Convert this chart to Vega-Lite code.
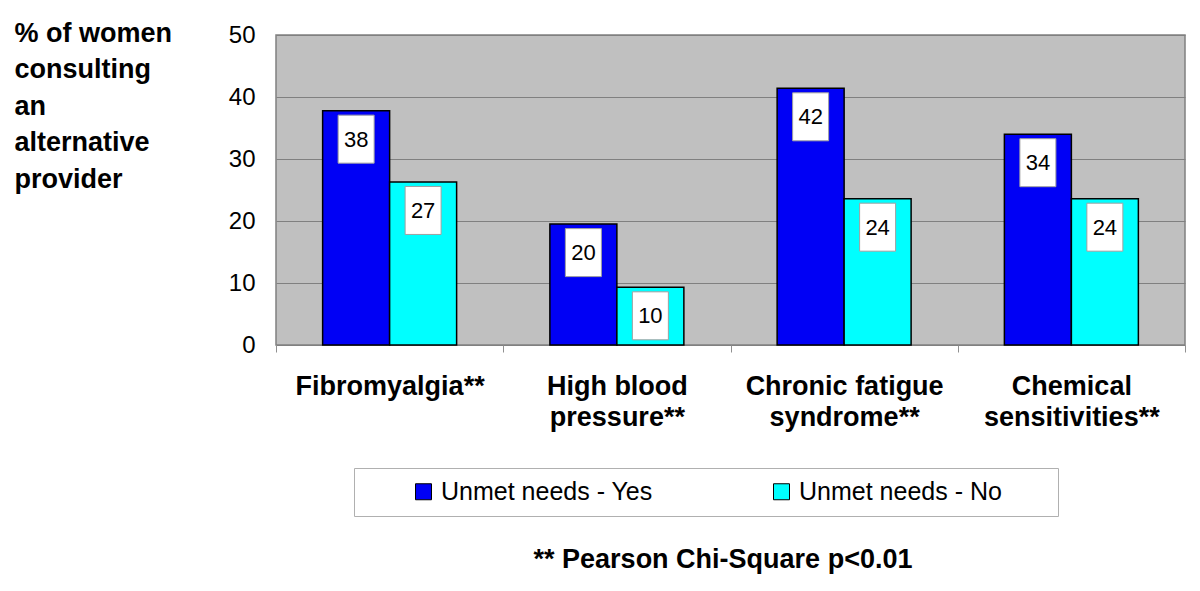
{
  "$schema": "https://vega.github.io/schema/vega-lite/v6.json",
  "width": 909,
  "height": 310,
  "autosize": {"type": "none"},
  "padding": {"left": 276, "top": 35, "right": 15, "bottom": 246},
  "background": "white",
  "data": {
    "values": [
      {"condition": "Fibromyalgia**", "needs": "Unmet needs - Yes", "pct": 37.8, "label": "38"},
      {"condition": "Fibromyalgia**", "needs": "Unmet needs - No", "pct": 26.3, "label": "27"},
      {"condition": "High blood pressure**", "needs": "Unmet needs - Yes", "pct": 19.5, "label": "20"},
      {"condition": "High blood pressure**", "needs": "Unmet needs - No", "pct": 9.3, "label": "10"},
      {"condition": "Chronic fatigue syndrome**", "needs": "Unmet needs - Yes", "pct": 41.4, "label": "42"},
      {"condition": "Chronic fatigue syndrome**", "needs": "Unmet needs - No", "pct": 23.6, "label": "24"},
      {"condition": "Chemical sensitivities**", "needs": "Unmet needs - Yes", "pct": 34.0, "label": "34"},
      {"condition": "Chemical sensitivities**", "needs": "Unmet needs - No", "pct": 23.6, "label": "24"}
    ]
  },
  "encoding": {
    "x": {
      "field": "condition",
      "type": "nominal",
      "sort": null,
      "scale": {"paddingInner": 0, "paddingOuter": 0},
      "axis": {
        "title": "** Pearson Chi-Square p<0.01",
        "titleFont": "Liberation Sans",
        "titleFontSize": 27,
        "titleFontWeight": "bold",
        "titleColor": "black",
        "titleX": 446.5,
        "titleY": 222,
        "titleAlign": "center",
        "titleBaseline": "alphabetic",
        "labelAngle": 0,
        "labelFont": "Liberation Sans",
        "labelFontSize": 27,
        "labelFontWeight": "bold",
        "labelColor": "black",
        "labelBaseline": "alphabetic",
        "labelPadding": 42,
        "labelLineHeight": 31,
        "labelLimit": 400,
        "labelExpr": "datum.value == 'High blood pressure**' ? ['High blood', 'pressure**'] : datum.value == 'Chronic fatigue syndrome**' ? ['Chronic fatigue', 'syndrome**'] : datum.value == 'Chemical sensitivities**' ? ['Chemical', 'sensitivities**'] : datum.value",
        "tickBand": "extent",
        "ticks": true,
        "tickSize": 7,
        "tickColor": "#909090",
        "domain": false,
        "grid": false
      }
    },
    "xOffset": {
      "field": "needs",
      "type": "nominal",
      "sort": ["Unmet needs - Yes", "Unmet needs - No"],
      "scale": {"paddingInner": 0, "paddingOuter": 0.696}
    },
    "y": {
      "field": "pct",
      "type": "quantitative",
      "scale": {"domain": [0, 50], "nice": false},
      "axis": {
        "values": [0, 10, 20, 30, 40, 50],
        "title": ["% of women", "consulting", "an", "alternative", "provider"],
        "titleFont": "Liberation Sans",
        "titleFontSize": 27,
        "titleFontWeight": "bold",
        "titleColor": "black",
        "titleAngle": 0,
        "titleAlign": "left",
        "titleBaseline": "alphabetic",
        "titleX": -262,
        "titleY": 6,
        "titleLineHeight": 36.5,
        "labelFont": "Liberation Sans",
        "labelFontSize": 24,
        "labelColor": "black",
        "labelPadding": 21,
        "ticks": false,
        "domain": false,
        "grid": true,
        "gridColor": "#808080",
        "gridWidth": 1
      }
    }
  },
  "layer": [
    {
      "mark": {"type": "bar", "stroke": "black", "strokeWidth": 1.5},
      "encoding": {
        "color": {
          "field": "needs",
          "type": "nominal",
          "sort": ["Unmet needs - Yes", "Unmet needs - No"],
          "scale": {"domain": ["Unmet needs - Yes", "Unmet needs - No"], "range": ["#0000f5", "#00ffff"]},
          "legend": {
            "orient": "none",
            "legendX": 78,
            "legendY": 433,
            "direction": "horizontal",
            "title": " ",
            "titleOrient": "right",
            "titleFontSize": 10,
            "titlePadding": 45,
            "padding": 11,
            "fillColor": "white",
            "strokeColor": "#b0b0b0",
            "symbolType": "square",
            "symbolSize": 256,
            "symbolStrokeColor": "black",
            "symbolStrokeWidth": 1,
            "symbolOpacity": 1,
            "symbolOffset": 46,
            "labelOffset": 5,
            "labelFont": "Liberation Sans",
            "labelFontSize": 25,
            "labelColor": "black",
            "labelLimit": 400,
            "columnPadding": 70
          }
        }
      }
    },
    {
      "mark": {
        "type": "point",
        "shape": "M-0.75,-1L0.75,-1L0.75,1L-0.75,1Z",
        "size": 2304,
        "filled": true,
        "fill": "white",
        "stroke": "#a0a0a0",
        "strokeWidth": 1,
        "opacity": 1,
        "yOffset": 28.5
      }
    },
    {
      "mark": {
        "type": "text",
        "font": "Liberation Sans",
        "fontSize": 22,
        "color": "black",
        "baseline": "middle",
        "yOffset": 29
      },
      "encoding": {"text": {"field": "label"}}
    }
  ],
  "config": {
    "view": {"stroke": "#808080", "fill": "#c0c0c0", "strokeWidth": 1.5}
  }
}
